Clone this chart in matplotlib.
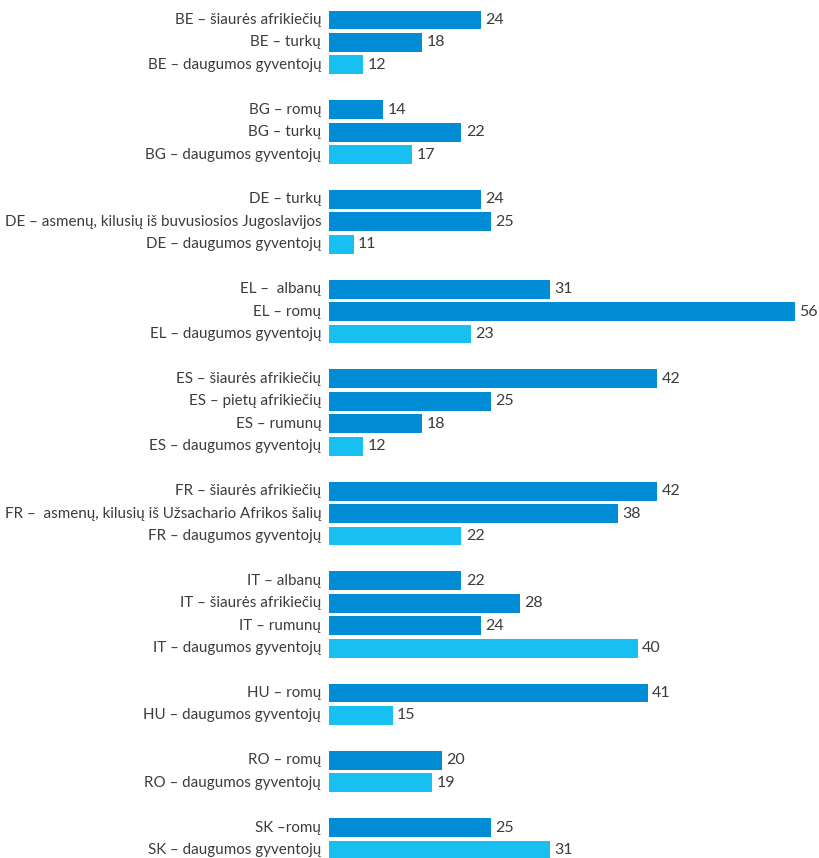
import numpy as np
import matplotlib.pyplot as plt

# Data
labels = [
    'BE – šiaurės afrikiečių', 'BE – turkų', 'BE – daugumos gyventojų',
    'BG – romų', 'BG – turkų', 'BG – daugumos gyventojų',
    'DE – turkų', 'DE – asmenų, kilusių iš buvusiosios Jugoslavijos', 'DE – daugumos gyventojų',
    'EL –  albanų', 'EL – romų', 'EL – daugumos gyventojų',
    'ES – šiaurės afrikiečių', 'ES – pietų afrikiečių', 'ES – rumunų', 'ES – daugumos gyventojų',
    'FR – šiaurės afrikiečių', 'FR –  asmenų, kilusių iš Užsachario Afrikos šalių', 'FR – daugumos gyventojų',
    'IT – albanų', 'IT – šiaurės afrikiečių', 'IT – rumunų', 'IT – daugumos gyventojų',
    'HU – romų', 'HU – daugumos gyventojų',
    'RO – romų', 'RO – daugumos gyventojų',
    'SK –romų', 'SK – daugumos gyventojų',
]
values = [24, 18, 12,
          14, 22, 17,
          24, 25, 11,
          31, 56, 23,
          42, 25, 18, 12,
          42, 38, 22,
          22, 28, 24, 40,
          41, 15,
          20, 19,
          25, 31]
group_sizes = [3, 3, 3, 3, 4, 3, 4, 2, 2, 2]
majority = ['daugumos' in s for s in labels]

# row positions, one empty row between groups
pos = []
row = 0
for n in group_sizes:
    pos.extend(range(row, row + n))
    row += n + 1
pos = np.array(pos)

dark = '#008dd5'
light = '#17c0f1'
txt = '#3c3c3c'
plt.rcParams['font.family'] = ['Lato', 'DejaVu Sans']

fig = plt.figure(figsize=(8.19, 8.58), dpi=100)
ax = fig.add_axes([329 / 819, 0, 1 - 329 / 819, 1])

colors = [light if m else dark for m in majority]
ax.barh(pos, values, height=0.84, color=colors)

for p, v, lab in zip(pos, values, labels):
    ax.text(v + 0.45, p, str(v), va='center', ha='left', fontsize=11.5, color=txt)
    ax.text(-0.016, p, lab, transform=ax.get_yaxis_transform(), va='center', ha='right',
            fontsize=10.9, color=txt)

ax.set_xlim(8.5, 8.5 + 490 / 9.8)
ax.set_ylim(37 + 8 / 22.43, -20 / 22.43)
ax.axis('off')

plt.savefig('out.png', dpi=100)
